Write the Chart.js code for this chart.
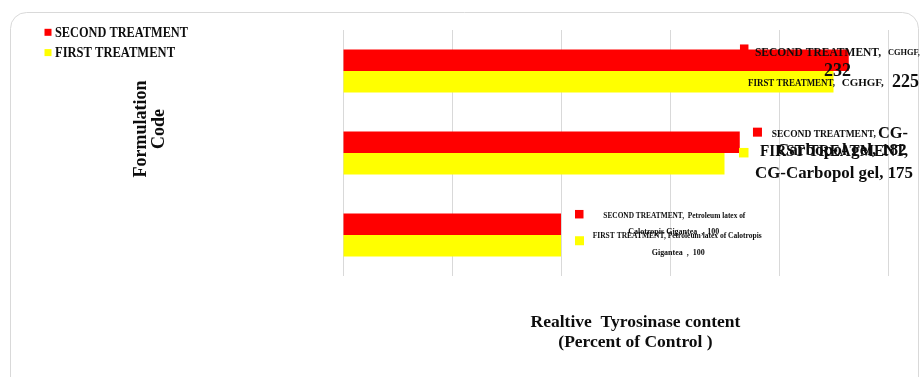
<!DOCTYPE html>
<html>
<head>
<meta charset="utf-8">
<script src="https://cdn.jsdelivr.net/npm/chart.js@4/dist/chart.umd.min.js"></script>
<style>
  html, body { margin: 0; padding: 0; background: #fff; }
  #wrap { width: 921px; height: 377px; }
</style>
</head>
<body>
<div id="wrap"><canvas id="c" width="921" height="377"></canvas></div>
<script>
// ---- data ----
const formulations = ['CGHGF', 'CG-Carbopol gel', 'Petroleum latex of Calotropis Gigantea'];
const seriesNames = ['SECOND TREATMENT', 'FIRST TREATMENT'];
const secondTreatment = [232, 182, 100];
const firstTreatment = [225, 175, 100];
const xTicks = [0, 50, 100, 150, 200, 250];
const xTitleLines = ['Realtive  Tyrosinase content', '(Percent of Control )'];
const yTitleLines = ['Formulation', 'Code'];

// ---- styling ----
const seriesColors = ['#FF0000', '#FFFF00'];
const SERIF = '"Liberation Serif", "Times New Roman", serif';
const INK = '#0d0d0d';
const font = (size) => `bold ${size}px ${SERIF}`;

// helpers to break a category name into the pieces used in its label
const beforeDash = (s) => s.slice(0, s.indexOf('-') + 1);
const afterDash = (s) => s.slice(s.indexOf('-') + 1);
const words = (s) => s.split(' ');

// Per-label layout: offsets from the bar's end (x) and the bar's centre (y).
// key = datasetIndex-dataIndex
const labelLayout = {
  '0-0': { box: { dx: -108.8, dy: -15.8, s: 8.5 }, segs: [
    { dx: -93.8, dy: -7.5, size: 11.5, w: 128, text: c => c.series + ',' },
    { dx: 39.2, dy: -7.5, size: 8.5, w: 32, text: c => c.category + ',' },
    { dx: -11.3, dy: 10.8, size: 18, align: 'center', text: c => String(c.value) }
  ]},
  '1-0': { segs: [
    { dx: -85.5, dy: 1.3, size: 10.5, w: 87, text: c => c.series + ',' },
    { dx: 8.2, dy: 1.3, size: 11, w: 43, text: c => c.category + ',' },
    { dx: 58.5, dy: 0.3, size: 18, w: 28, text: c => String(c.value) }
  ]},
  '0-1': { box: { dx: 13.2, dy: -14.6, s: 9 }, segs: [
    { dx: 31.9, dy: -8.2, size: 9.5, w: 105, text: c => c.series + ',' },
    { dx: 138.2, dy: -8.8, size: 17, w: 30, text: c => beforeDash(c.category) },
    { dx: 36.9, dy: 7.8, size: 17.5, w: 130, text: c => afterDash(c.category) + ', ' + c.value }
  ]},
  '1-1': { box: { dx: 14.5, dy: -15.8, s: 9.5 }, segs: [
    { dx: 35.5, dy: -12, size: 16, w: 148, text: c => c.series + ',' },
    { dx: 30.5, dy: 10.3, size: 17, w: 158, text: c => c.category + ', ' + c.value }
  ]},
  '0-2': { box: { dx: 14, dy: -14.3, s: 8.5 }, segs: [
    { dx: 42.3, dy: -8.6, size: 7.5, w: 142, text: c => c.series + ',  ' + words(c.category).slice(0, 3).join(' ') },
    { dx: 67.3, dy: 8.1, size: 8, w: 91, text: c => words(c.category).slice(3).join(' ') + '  ,  ' + c.value }
  ]},
  '1-2': { box: { dx: 14, dy: -9.5, s: 9 }, segs: [
    { dx: 31.7, dy: -9.5, size: 7.5, w: 171, text: c => c.series + ', ' + words(c.category).slice(0, 4).join(' ') },
    { dx: 90.7, dy: 7.6, size: 8, w: 53, text: c => words(c.category).slice(4).join(' ') + '  ,  ' + c.value }
  ]}
};

// rounded frame around the whole chart
const framePlugin = {
  id: 'frame',
  beforeDraw(chart) {
    const ctx = chart.ctx;
    ctx.save();
    ctx.fillStyle = '#ffffff';
    ctx.fillRect(0, 0, chart.width, chart.height);
    ctx.strokeStyle = '#d9d9d9';
    ctx.lineWidth = 1;
    ctx.beginPath();
    ctx.roundRect(10.5, 12.5, 908, 400, 16);
    ctx.stroke();
    ctx.restore();
  }
};

// legend (stacked top-left) and axis titles
const decorPlugin = {
  id: 'decor',
  afterDraw(chart) {
    const ctx = chart.ctx;
    ctx.save();
    ctx.fillStyle = INK;
    ctx.textBaseline = 'middle';
    // legend
    const legendRows = [32.3, 52.6];
    chart.data.datasets.forEach((ds, i) => {
      ctx.fillStyle = ds.backgroundColor;
      ctx.fillRect(44.5, legendRows[i] - 3.5, 7, 7);
      ctx.fillStyle = INK;
      ctx.font = font(14.5);
      ctx.textAlign = 'left';
      ctx.fillText(ds.label, 55, legendRows[i] + 0.5, i === 0 ? 133 : 120);
    });
    // x title
    ctx.textAlign = 'center';
    ctx.font = font(17.5);
    ctx.fillText(xTitleLines[0], 635.5, 322.5);
    ctx.fillText(xTitleLines[1], 635.5, 342);
    // y title (rotated)
    ctx.translate(150, 129);
    ctx.rotate(-Math.PI / 2);
    ctx.font = font(18);
    ctx.fillText(yTitleLines[0], 0, -9);
    ctx.fillText(yTitleLines[1], 0, 9);
    ctx.restore();
  }
};

// data labels, positioned from each bar element
const labelPlugin = {
  id: 'barLabels',
  afterDatasetsDraw(chart) {
    const ctx = chart.ctx;
    ctx.save();
    ctx.textBaseline = 'middle';
    chart.data.datasets.forEach((ds, di) => {
      const meta = chart.getDatasetMeta(di);
      meta.data.forEach((el, i) => {
        const spec = labelLayout[di + '-' + i];
        if (!spec) return;
        const ctxData = { series: ds.label, category: chart.data.labels[i], value: ds.data[i] };
        const ex = el.x, cy = el.y;
        if (spec.box) {
          ctx.fillStyle = ds.backgroundColor;
          ctx.fillRect(ex + spec.box.dx, cy + spec.box.dy, spec.box.s, spec.box.s);
        }
        ctx.fillStyle = INK;
        spec.segs.forEach(sg => {
          ctx.font = font(sg.size);
          ctx.textAlign = sg.align || 'left';
          const t = sg.text(ctxData);
          if (sg.w) ctx.fillText(t, ex + sg.dx, cy + sg.dy, sg.w);
          else ctx.fillText(t, ex + sg.dx, cy + sg.dy);
        });
      });
    });
    ctx.restore();
  }
};

new Chart(document.getElementById('c'), {
  type: 'bar',
  data: {
    labels: formulations,
    datasets: [
      { label: seriesNames[0], data: secondTreatment, backgroundColor: seriesColors[0] },
      { label: seriesNames[1], data: firstTreatment, backgroundColor: seriesColors[1] }
    ]
  },
  options: {
    indexAxis: 'y',
    responsive: false,
    devicePixelRatio: 1,
    animation: false,
    layout: { padding: { left: 343, right: 33, top: 30, bottom: 101 } },
    datasets: { bar: { categoryPercentage: 0.524, barPercentage: 1, borderWidth: 0 } },
    scales: {
      x: {
        min: xTicks[0],
        max: xTicks[xTicks.length - 1],
        ticks: { display: false, stepSize: xTicks[1] - xTicks[0] },
        grid: { color: '#d9d9d9', lineWidth: 1, drawTicks: false },
        border: { display: false }
      },
      y: {
        ticks: { display: false },
        grid: { display: false, drawTicks: false },
        border: { display: false }
      }
    },
    plugins: {
      legend: { display: false },
      tooltip: { enabled: false }
    }
  },
  plugins: [framePlugin, labelPlugin, decorPlugin]
});
</script>
</body>
</html>
